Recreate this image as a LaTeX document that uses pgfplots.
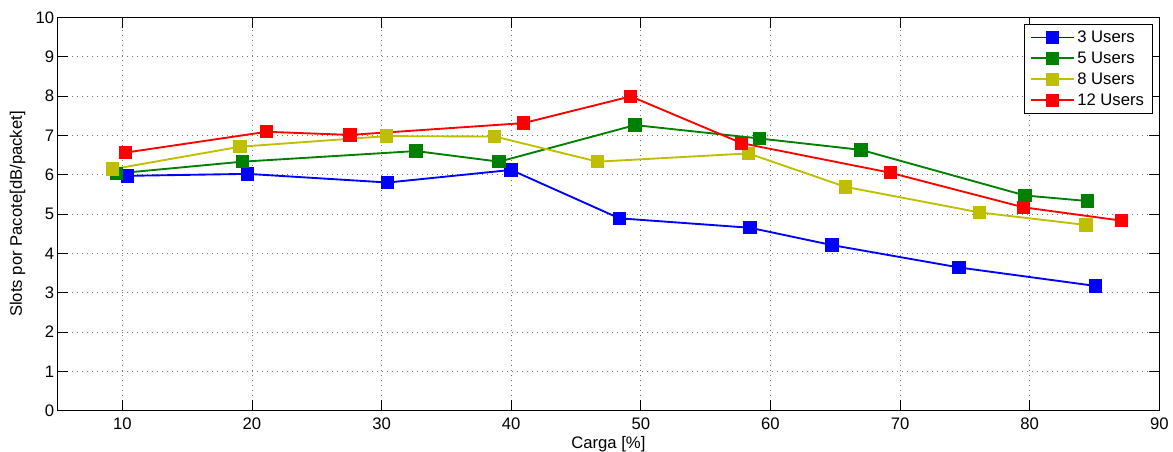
\documentclass[border=0pt]{standalone}
\usepackage{fontspec}
\setmainfont{Liberation Sans}
\usepackage{pgfplots}
\pgfplotsset{compat=1.18}
\definecolor{mblue}{rgb}{0,0,1}
\definecolor{mgreen}{rgb}{0,0.5,0}
\definecolor{myellow}{rgb}{0.75,0.75,0}
\definecolor{mred}{rgb}{1,0,0}
\pgfplotsset{ser/.style={color=#1, draw=#1, line width=1.4pt, mark=square*, mark size=4.3pt, mark options={solid, draw=#1, fill=#1}}}
\begin{document}
\begin{tikzpicture}
\begin{axis}[
  scale only axis, width=826.35pt, height=295pt,
  xmin=5, xmax=90, ymin=0, ymax=10,
  xtick={10,20,...,90}, ytick={0,1,...,10},
  grid=major,
  major grid style={black!55, line width=0.6pt, dash pattern=on 0.75pt off 3pt},
  tick align=inside, major tick length=8pt,
  tick style={black, line width=0.5pt},
  axis line style={line width=0.75pt},
  ticklabel style={font=\fontsize{12.5}{14}\selectfont},
  xticklabel style={yshift=-2pt},
  yticklabel style={xshift=1pt},
  /pgf/number format/assume math mode=true,
  xlabel={Carga [\%]}, ylabel={Slots por Pacote[dB/packet]},
  label style={font=\fontsize{12.5}{14}\selectfont},
  xlabel style={at={(axis description cs:0.5,0)}, anchor=base, yshift=-28.7pt},
  ylabel style={at={(axis description cs:-0.0363,0.5)}, anchor=center},
  legend style={at={(0.9936,0.982)}, anchor=north east,
    font=\fontsize{12.5}{14}\selectfont, row sep=1.5pt, inner xsep=4pt, inner ysep=2.5pt},
  legend cell align=left,
  legend image code/.code={\draw[mark repeat=2,mark phase=2] plot coordinates {(0cm,0cm)(0.565cm,0cm)(1.13cm,0cm)};},
]
\addplot[ser=mblue] coordinates {
 (10.42,5.97) (19.68,6.02) (30.48,5.80) (40.0,6.12) (48.35,4.89)
 (58.43,4.65) (64.74,4.21) (74.56,3.64) (85.1,3.17)};
\addlegendentry{3 Users}
\addplot[ser=mgreen] coordinates {
 (9.57,6.03) (19.26,6.33) (32.66,6.60) (39.07,6.33) (49.56,7.26)
 (59.15,6.92) (67.0,6.63) (79.65,5.47) (84.46,5.33)};
\addlegendentry{5 Users}
\addplot[ser=myellow] coordinates {
 (9.26,6.14) (19.08,6.71) (30.4,6.98) (38.73,6.97) (46.68,6.33)
 (58.3,6.54) (65.79,5.69) (76.13,5.04) (84.36,4.72)};
\addlegendentry{8 Users}
\addplot[ser=mred] coordinates {
 (10.23,6.56) (21.14,7.09) (27.57,7.01) (40.94,7.31) (49.23,7.99)
 (57.79,6.80) (69.24,6.05) (79.53,5.17) (87.11,4.83)};
\addlegendentry{12 Users}
\end{axis}
\pgfresetboundingbox
\path ([xshift=-43.1pt,yshift=-31pt]current axis.south west) rectangle ([xshift=10.3pt,yshift=13pt]current axis.north east);
\end{tikzpicture}
\end{document}
